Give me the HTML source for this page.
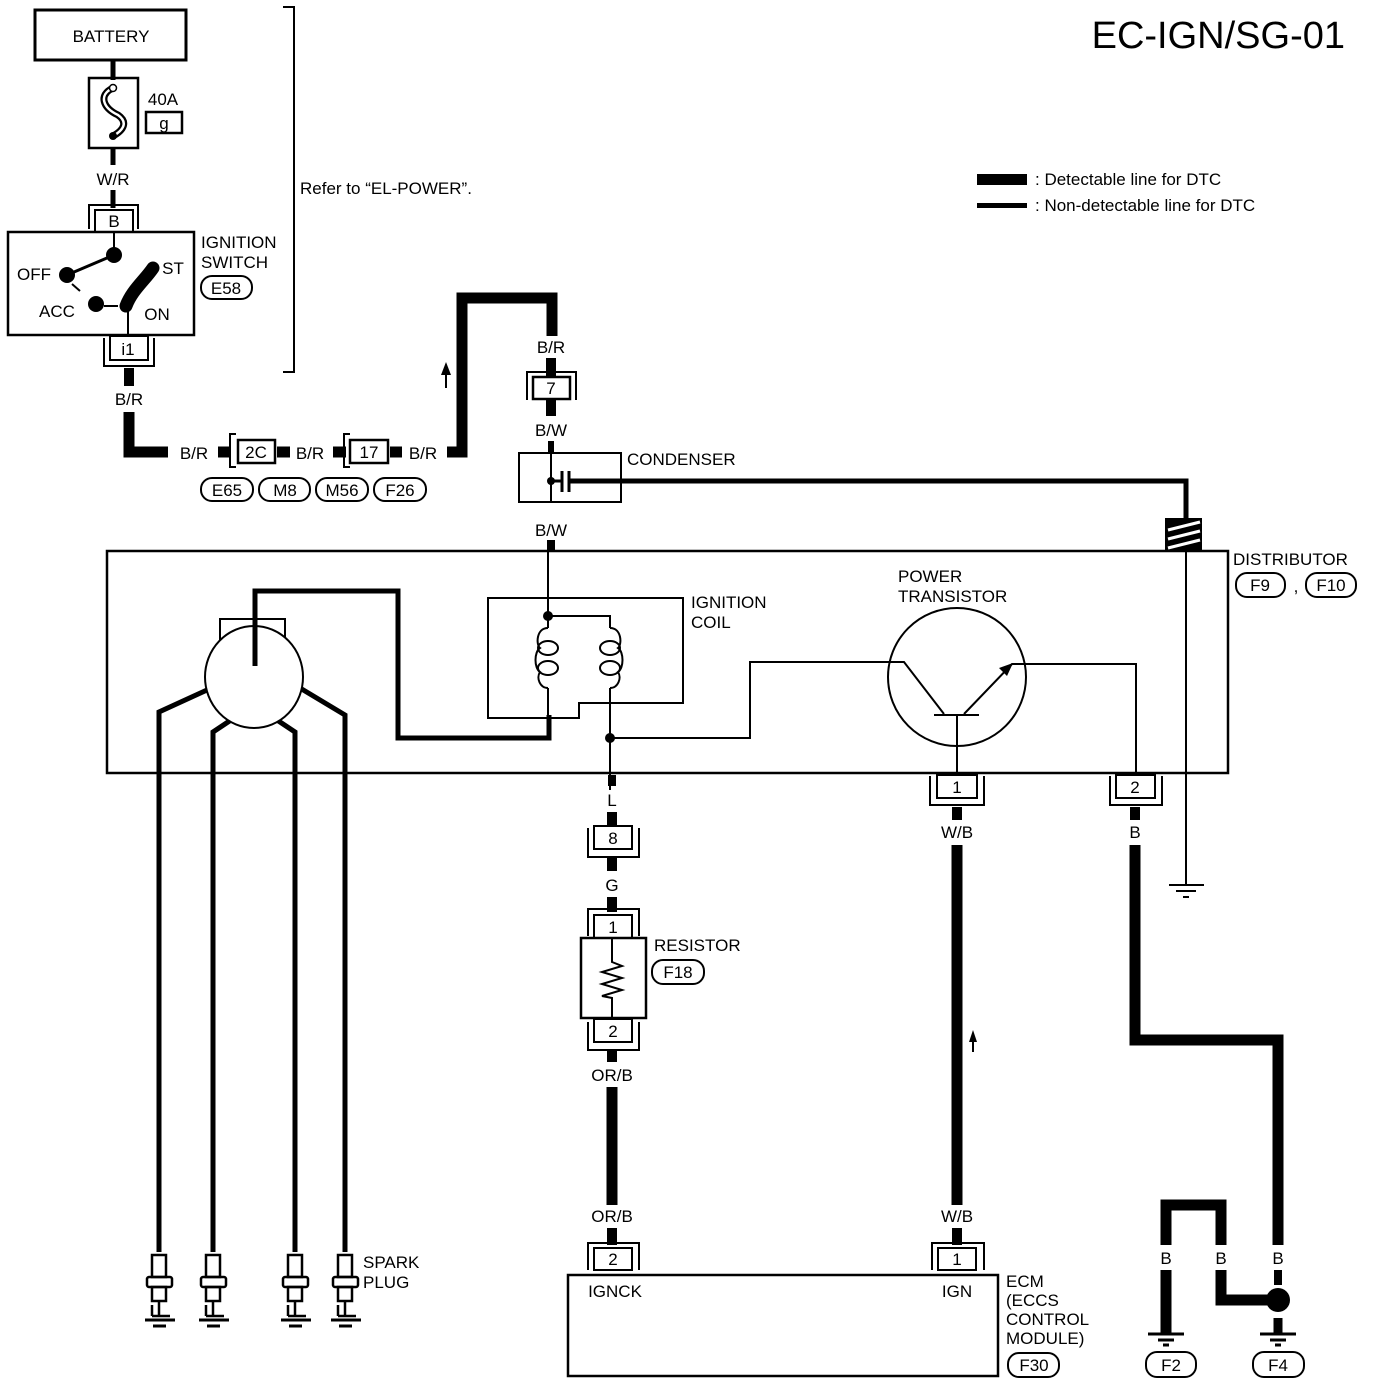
<!DOCTYPE html>
<html><head><meta charset="utf-8"><style>
html,body{margin:0;padding:0;background:#fff}
svg{display:block}
text{font-family:"Liberation Sans",Arial,sans-serif;fill:#000}
</style></head><body>
<svg width="1376" height="1386" viewBox="0 0 1376 1386" xmlns="http://www.w3.org/2000/svg">
<text x="1345" y="48" font-size="38" text-anchor="end">EC-IGN/SG-01</text>
<rect x="977" y="174" width="50" height="11" fill="#000"/>
<rect x="977" y="203" width="50" height="5" fill="#000"/>
<text x="1035" y="185" font-size="17">: Detectable line for DTC</text>
<text x="1035" y="211" font-size="17">: Non-detectable line for DTC</text>

<g font-size="17" text-anchor="middle">
<rect x="35" y="10" width="151" height="50" fill="none" stroke="#000" stroke-width="3"/>
<text x="111" y="42">BATTERY</text>
<line x1="113" y1="60" x2="113" y2="80" stroke="#000" stroke-width="5"/>
<rect x="89" y="78" width="49" height="70" fill="none" stroke="#000" stroke-width="2.5"/>
<path d="M113 88 C98 95,103 108,118 115 C128 122,124 130,113 136" fill="none" stroke="#000" stroke-width="7"/>
<path d="M113 88 C98 95,103 108,118 115 C128 122,124 130,113 136" fill="none" stroke="#fff" stroke-width="2.5"/>
<circle cx="113" cy="88" r="3.5" fill="#fff" stroke="#000" stroke-width="1.5"/>
<circle cx="113" cy="136" r="4" fill="#000"/>
<text x="163" y="105">40A</text>
<rect x="146" y="112" width="36" height="21" fill="none" stroke="#000" stroke-width="2.5"/>
<text x="164" y="129">g</text>
<line x1="113" y1="148" x2="113" y2="165" stroke="#000" stroke-width="5"/>
<text x="113" y="185">W/R</text>
<line x1="113" y1="190" x2="113" y2="208" stroke="#000" stroke-width="5"/>
<path d="M89 229 V205 H138 V229" fill="none" stroke="#000" stroke-width="2"/>
<rect x="95" y="210" width="38" height="22" fill="#fff" stroke="#000" stroke-width="2"/>
<text x="114" y="227">B</text>
<rect x="8" y="232" width="186" height="103" fill="none" stroke="#000" stroke-width="2.5"/>
<line x1="114" y1="232" x2="114" y2="252" stroke="#000" stroke-width="2"/>
<circle cx="114" cy="255" r="8" fill="#000"/>
<line x1="114" y1="255" x2="67" y2="275" stroke="#000" stroke-width="3"/>
<circle cx="67" cy="275" r="8" fill="#000"/>
<line x1="72" y1="284" x2="80" y2="291" stroke="#000" stroke-width="2"/>
<circle cx="96" cy="304" r="8" fill="#000"/>
<line x1="104" y1="306" x2="118" y2="306" stroke="#000" stroke-width="2"/>
<path d="M126 306 C132 290,145 280,153 268" fill="none" stroke="#000" stroke-width="13" stroke-linecap="round"/>
<line x1="128" y1="310" x2="128" y2="338" stroke="#000" stroke-width="2"/>
<text x="34" y="280">OFF</text>
<text x="57" y="317">ACC</text>
<text x="173" y="274">ST</text>
<text x="157" y="320">ON</text>
<text x="201" y="248" text-anchor="start">IGNITION</text>
<text x="201" y="268" text-anchor="start">SWITCH</text>
<rect x="201" y="276" width="51" height="23" rx="11" fill="none" stroke="#000" stroke-width="2"/>
<text x="226" y="294">E58</text>
<path d="M104 338 V366 H154 V338" fill="none" stroke="#000" stroke-width="2"/>
<rect x="110" y="336" width="38" height="24" fill="#fff" stroke="#000" stroke-width="2"/>
<text x="128" y="355">i1</text>
<line x1="129" y1="368" x2="129" y2="386" stroke="#000" stroke-width="10"/>
<text x="129" y="405">B/R</text>
<path d="M129 412 V452 H168" fill="none" stroke="#000" stroke-width="11"/>
<text x="194" y="459">B/R</text>
<line x1="218" y1="452" x2="230" y2="452" stroke="#000" stroke-width="11"/>
<path d="M236 467 H230 V434 H236" fill="none" stroke="#000" stroke-width="2"/>
<rect x="238" y="440" width="37" height="23" fill="#fff" stroke="#000" stroke-width="2.5"/>
<text x="256" y="458">2C</text>
<line x1="277" y1="452" x2="290" y2="452" stroke="#000" stroke-width="11"/>
<text x="310" y="459">B/R</text>
<line x1="333" y1="452" x2="346" y2="452" stroke="#000" stroke-width="11"/>
<path d="M350 467 H344 V434 H350" fill="none" stroke="#000" stroke-width="2"/>
<rect x="350" y="440" width="38" height="23" fill="#fff" stroke="#000" stroke-width="2.5"/>
<text x="369" y="458">17</text>
<line x1="390" y1="452" x2="402" y2="452" stroke="#000" stroke-width="11"/>
<text x="423" y="459">B/R</text>
<g fill="none" stroke="#000" stroke-width="2">
<rect x="201" y="478" width="52" height="23" rx="11"/>
<rect x="259" y="478" width="51" height="23" rx="11"/>
<rect x="316" y="478" width="52" height="23" rx="11"/>
<rect x="374" y="478" width="52" height="23" rx="11"/>
</g>
<text x="227" y="496">E65</text><text x="285" y="496">M8</text><text x="342" y="496">M56</text><text x="400" y="496">F26</text>
<path d="M283 7 H294 V372 H283" fill="none" stroke="#000" stroke-width="2"/>
<text x="300" y="194" text-anchor="start">Refer to “EL-POWER”.</text>
<line x1="446" y1="388" x2="446" y2="372" stroke="#000" stroke-width="2"/>
<path d="M441 375 L446 362 L451 375Z" fill="#000"/>
<path d="M447 452 H462 V298 H552 V336" fill="none" stroke="#000" stroke-width="11"/>
<text x="551" y="353">B/R</text>
<line x1="551" y1="358" x2="551" y2="378" stroke="#000" stroke-width="10"/>
<path d="M527 400 V372 H576 V400" fill="none" stroke="#000" stroke-width="2"/>
<rect x="533" y="377" width="37" height="22" fill="#fff" stroke="#000" stroke-width="2.5"/>
<text x="551" y="394">7</text>
<line x1="551" y1="400" x2="551" y2="416" stroke="#000" stroke-width="10"/>
<text x="551" y="436">B/W</text>
<line x1="551" y1="441" x2="551" y2="453" stroke="#000" stroke-width="6"/>
<rect x="519" y="453" width="102" height="49" fill="none" stroke="#000" stroke-width="2"/>
<line x1="551" y1="453" x2="551" y2="502" stroke="#000" stroke-width="2"/>
<circle cx="551" cy="481" r="4" fill="#000"/>
<line x1="551" y1="481" x2="561" y2="481" stroke="#000" stroke-width="3"/>
<line x1="562" y1="471" x2="562" y2="492" stroke="#000" stroke-width="3"/>
<line x1="569" y1="471" x2="569" y2="492" stroke="#000" stroke-width="3"/>
<path d="M569 481 H1186 V518" fill="none" stroke="#000" stroke-width="5"/>
<text x="627" y="465" text-anchor="start">CONDENSER</text>
<text x="551" y="536">B/W</text>
<line x1="551" y1="540" x2="551" y2="552" stroke="#000" stroke-width="8"/>
<rect x="1165" y="518" width="37" height="33" fill="#000"/>
<g stroke="#fff" stroke-width="3"><line x1="1168" y1="530" x2="1200" y2="522"/><line x1="1168" y1="539" x2="1200" y2="531"/><line x1="1168" y1="548" x2="1200" y2="540"/></g>
<rect x="107" y="551" width="1121" height="222" fill="none" stroke="#000" stroke-width="2.5"/>
<line x1="1186" y1="551" x2="1186" y2="885" stroke="#000" stroke-width="2"/>
<line x1="1169" y1="885" x2="1204" y2="885" stroke="#000" stroke-width="2"/>
<line x1="1176" y1="891" x2="1196" y2="891" stroke="#000" stroke-width="2"/>
<line x1="1183" y1="897" x2="1189" y2="897" stroke="#000" stroke-width="2"/>
<text x="1233" y="565" text-anchor="start">DISTRIBUTOR</text>
<rect x="1236" y="573" width="49" height="24" rx="11" fill="none" stroke="#000" stroke-width="2"/>
<text x="1260" y="591">F9</text>
<text x="1296" y="592">,</text>
<rect x="1306" y="573" width="50" height="24" rx="11" fill="none" stroke="#000" stroke-width="2"/>
<text x="1331" y="591">F10</text>
<g fill="none" stroke="#000" stroke-width="5">
<path d="M207 690 L159 712 V1252"/>
<path d="M234 718 L213 732 V1252"/>
<path d="M274 718 L295 732 V1252"/>
<path d="M300 688 L345 715 V1252"/>
</g>
<rect x="220" y="619" width="65" height="43" fill="none" stroke="#000" stroke-width="2"/>
<ellipse cx="254" cy="677" rx="49" ry="51" fill="#fff" stroke="#000" stroke-width="2"/>
<path d="M255 666 V591 H398 V738 H549 V715" fill="none" stroke="#000" stroke-width="5"/>
<path d="M488 598 H683 V703 H579 V718 H488 Z" fill="none" stroke="#000" stroke-width="2"/>
<line x1="548" y1="551" x2="548" y2="628" stroke="#000" stroke-width="2"/>
<circle cx="548" cy="616" r="5" fill="#000"/>
<path d="M548 616 H610 V628" fill="none" stroke="#000" stroke-width="2"/>
<g fill="none" stroke="#000" stroke-width="2">
<path d="M548 628 C536 628,536 645,540 648 C534 652,534 668,540 672 C536 678,540 688,548 688"/>
<ellipse cx="548" cy="648" rx="10" ry="7"/>
<ellipse cx="548" cy="668" rx="10" ry="7"/>
<path d="M610 628 C622 628,622 645,618 648 C624 652,624 668,618 672 C622 678,618 688,610 688"/>
<ellipse cx="610" cy="648" rx="10" ry="7"/>
<ellipse cx="610" cy="668" rx="10" ry="7"/>
<line x1="548" y1="688" x2="548" y2="715"/>
<line x1="610" y1="688" x2="610" y2="790"/>
<path d="M610 738 H750 V662 H890"/>
</g>
<circle cx="610" cy="738" r="5" fill="#000"/>
<text x="691" y="608" text-anchor="start">IGNITION</text>
<text x="691" y="628" text-anchor="start">COIL</text>
<circle cx="957" cy="677" r="69" fill="none" stroke="#000" stroke-width="2"/>
<g fill="none" stroke="#000" stroke-width="2">
<path d="M888 662 H904 L944 714"/>
<line x1="934" y1="715" x2="979" y2="715"/>
<line x1="957" y1="715" x2="957" y2="776"/>
<path d="M964 714 L1012 664 H1136 V773"/>
</g>
<path d="M1013 663 L999 668 L1007 676Z" fill="#000"/>
<text x="898" y="582" text-anchor="start">POWER</text>
<text x="898" y="602" text-anchor="start">TRANSISTOR</text>
<path d="M930 776 V805 H984 V776" fill="none" stroke="#000" stroke-width="2"/>
<rect x="937" y="775" width="40" height="23" fill="#fff" stroke="#000" stroke-width="2"/>
<text x="957" y="793">1</text>
<line x1="957" y1="807" x2="957" y2="820" stroke="#000" stroke-width="10"/>
<text x="957" y="838">W/B</text>
<line x1="957" y1="845" x2="957" y2="1205" stroke="#000" stroke-width="11"/>
<line x1="973" y1="1052" x2="973" y2="1040" stroke="#000" stroke-width="2"/>
<path d="M969 1042 L973 1030 L977 1042Z" fill="#000"/>
<path d="M1110 776 V805 H1162 V776" fill="none" stroke="#000" stroke-width="2"/>
<rect x="1116" y="775" width="39" height="23" fill="#fff" stroke="#000" stroke-width="2"/>
<text x="1135" y="793">2</text>
<line x1="1135" y1="807" x2="1135" y2="820" stroke="#000" stroke-width="10"/>
<text x="1135" y="838">B</text>
<path d="M1135 845 V1040 H1278 V1245" fill="none" stroke="#000" stroke-width="11"/>
<line x1="612" y1="775" x2="612" y2="786" stroke="#000" stroke-width="8"/>
<text x="612" y="806">L</text>
<line x1="612" y1="812" x2="612" y2="828" stroke="#000" stroke-width="10"/>
<path d="M588 828 V857 H639 V828" fill="none" stroke="#000" stroke-width="2"/>
<rect x="594" y="826" width="38" height="23" fill="#fff" stroke="#000" stroke-width="2"/>
<text x="613" y="844">8</text>
<line x1="612" y1="857" x2="612" y2="871" stroke="#000" stroke-width="10"/>
<text x="612" y="891">G</text>
<line x1="612" y1="897" x2="612" y2="912" stroke="#000" stroke-width="10"/>
<path d="M588 936 V909 H639 V936" fill="none" stroke="#000" stroke-width="2"/>
<rect x="594" y="915" width="38" height="23" fill="#fff" stroke="#000" stroke-width="2"/>
<text x="613" y="933">1</text>
<rect x="581" y="938" width="65" height="80" fill="none" stroke="#000" stroke-width="2.5"/>
<path d="M612 938 V962 L622 966 L602 972 L622 978 L602 984 L622 990 L602 996 L612 998 V1018" fill="none" stroke="#000" stroke-width="2"/>
<path d="M588 1022 V1050 H639 V1022" fill="none" stroke="#000" stroke-width="2"/>
<rect x="594" y="1019" width="38" height="23" fill="#fff" stroke="#000" stroke-width="2"/>
<text x="613" y="1037">2</text>
<text x="654" y="951" text-anchor="start">RESISTOR</text>
<rect x="652" y="960" width="52" height="24" rx="11" fill="none" stroke="#000" stroke-width="2"/>
<text x="678" y="978">F18</text>
<line x1="612" y1="1050" x2="612" y2="1062" stroke="#000" stroke-width="10"/>
<text x="612" y="1081">OR/B</text>
<line x1="612" y1="1087" x2="612" y2="1205" stroke="#000" stroke-width="11"/>
<text x="612" y="1222">OR/B</text>
<line x1="612" y1="1228" x2="612" y2="1245" stroke="#000" stroke-width="10"/>
<path d="M588 1270 V1243 H639 V1270" fill="none" stroke="#000" stroke-width="2"/>
<rect x="594" y="1248" width="38" height="22" fill="#fff" stroke="#000" stroke-width="2"/>
<text x="613" y="1265">2</text>
<text x="957" y="1222">W/B</text>
<line x1="957" y1="1228" x2="957" y2="1245" stroke="#000" stroke-width="10"/>
<path d="M932 1270 V1243 H984 V1270" fill="none" stroke="#000" stroke-width="2"/>
<rect x="938" y="1248" width="38" height="22" fill="#fff" stroke="#000" stroke-width="2"/>
<text x="957" y="1265">1</text>
<rect x="568" y="1275" width="430" height="101" fill="none" stroke="#000" stroke-width="2.5"/>
<text x="615" y="1297">IGNCK</text>
<text x="957" y="1297">IGN</text>
<text x="1006" y="1287" text-anchor="start">ECM</text>
<text x="1006" y="1306" text-anchor="start">(ECCS</text>
<text x="1006" y="1325" text-anchor="start">CONTROL</text>
<text x="1006" y="1344" text-anchor="start">MODULE)</text>
<rect x="1008" y="1353" width="51" height="24" rx="11" fill="none" stroke="#000" stroke-width="2"/>
<text x="1034" y="1371">F30</text>
<path d="M1166 1245 V1205 H1221 V1245" fill="none" stroke="#000" stroke-width="11"/>
<text x="1166" y="1264">B</text><text x="1221" y="1264">B</text><text x="1278" y="1264">B</text>
<path d="M1166 1270 V1333" fill="none" stroke="#000" stroke-width="11"/>
<path d="M1221 1270 V1300 H1270" fill="none" stroke="#000" stroke-width="11"/>
<line x1="1278" y1="1270" x2="1278" y2="1285" stroke="#000" stroke-width="8"/>
<circle cx="1278" cy="1300" r="12" fill="#000"/>
<line x1="1278" y1="1318" x2="1278" y2="1333" stroke="#000" stroke-width="9"/>
<g stroke="#000" stroke-width="3">
<line x1="1148" y1="1334" x2="1184" y2="1334"/><line x1="1158" y1="1340" x2="1174" y2="1340"/><line x1="1163" y1="1345" x2="1169" y2="1345"/>
<line x1="1260" y1="1334" x2="1296" y2="1334"/><line x1="1270" y1="1340" x2="1286" y2="1340"/><line x1="1275" y1="1345" x2="1281" y2="1345"/>
</g>
<rect x="1146" y="1352" width="50" height="25" rx="11" fill="none" stroke="#000" stroke-width="2"/>
<text x="1171" y="1371">F2</text>
<rect x="1253" y="1352" width="51" height="25" rx="11" fill="none" stroke="#000" stroke-width="2"/>
<text x="1278" y="1371">F4</text>
<g id="sp" fill="none" stroke="#000" stroke-width="2.5">
<rect x="152" y="1255" width="14" height="22"/>
<rect x="147" y="1277" width="25" height="10" rx="2"/>
<rect x="152" y="1287" width="14" height="14"/>
<line x1="159" y1="1301" x2="159" y2="1316"/>
<line x1="152" y1="1305" x2="152" y2="1316"/>
<line x1="152" y1="1316" x2="170" y2="1316"/>
</g>
<g stroke="#000" stroke-width="3"><line x1="145" y1="1320" x2="175" y2="1320"/><line x1="153" y1="1326" x2="166" y2="1326"/></g>
<use href="#sp" x="54"/><g stroke="#000" stroke-width="3"><line x1="199" y1="1320" x2="229" y2="1320"/><line x1="207" y1="1326" x2="220" y2="1326"/></g>
<use href="#sp" x="136"/><g stroke="#000" stroke-width="3"><line x1="281" y1="1320" x2="311" y2="1320"/><line x1="289" y1="1326" x2="302" y2="1326"/></g>
<use href="#sp" x="186"/><g stroke="#000" stroke-width="3"><line x1="331" y1="1320" x2="361" y2="1320"/><line x1="339" y1="1326" x2="352" y2="1326"/></g>
<text x="363" y="1268" text-anchor="start">SPARK</text>
<text x="363" y="1288" text-anchor="start">PLUG</text>
</g>
</svg>
</body></html>
